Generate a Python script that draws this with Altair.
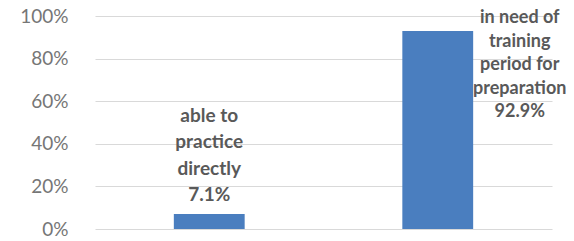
import altair as alt
import pandas as pd

categories = ["able to practice directly", "in need of training period for preparation"]
values = [0.071, 0.929]
label_lines = [["able to", "practice", "directly", "7.1%"],
               ["in need of", "training", "period for", "preparation", "92.9%"]]

df = pd.DataFrame({"cat": categories, "value": values, "label": label_lines})

x = alt.X("cat:N", sort=categories, axis=None,
          scale=alt.Scale(paddingInner=0.69, paddingOuter=0.345))
y = alt.Y("value:Q", scale=alt.Scale(domain=[0, 1], nice=False),
          axis=alt.Axis(values=[0, 0.2, 0.4, 0.6, 0.8, 1.0], format=".0%", title=None,
                        domain=False, ticks=False, labelPadding=27, labelFontSize=19,
                        labelColor="#767676", labelFont="Lato", gridColor="#d9d9d9",
                        gridWidth=1))

bars = alt.Chart(df).mark_bar(color="#4a7ebf").encode(x=x, y=y)

t1 = alt.Chart(df).transform_filter(alt.datum.cat == categories[0]).mark_text(
    font="Lato", fontWeight="bold", fontSize=19, lineHeight=26.5, color="#595959",
    baseline="top", dy=-107).encode(x=x, y=y, text="label")

t2 = alt.Chart(df).transform_filter(alt.datum.cat == categories[1]).mark_text(
    font="Lato", fontWeight="bold", fontSize=18, lineHeight=23.5, color="#595959",
    baseline="top", dx=82, dy=-22).encode(x=x, y=y, text="label")

chart = (bars + t1 + t2).properties(
    width=457, height=213,
    autosize=alt.AutoSizeParams(type="none"),
    padding={"left": 87, "top": 8, "right": 14, "bottom": 11},
).configure_view(stroke=None)

chart.save("out.html", embed_options={"renderer": "svg", "actions": False})
